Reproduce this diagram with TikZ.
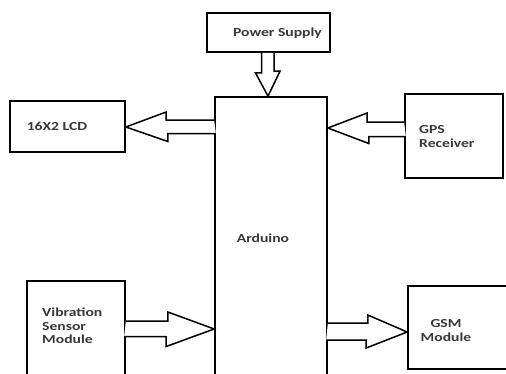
\documentclass[tikz,border=0pt]{standalone}
\usepackage{fontspec}
\setmainfont{Carlito}
\usetikzlibrary{calc}
\tikzset{
  blk/.style={draw=black, line width=1.7pt, fill=white, inner sep=0pt},
  lbl/.style={font=\bfseries\fontsize{12.3}{14.5}\selectfont, text=black!78, inner sep=0pt, align=left},
  barrow/.style={draw=black, line width=1.5pt, line join=miter, fill=white}
}
\newcommand{\wide}[1]{\scalebox{1.27}[1]{#1}}
\begin{document}
\begin{tikzpicture}[x=1pt,y=-1pt]
\useasboundingbox (0,0) rectangle (506,373);
\clip (0,0) rectangle (506,373);
% boxes
\node[blk, minimum width=123pt, minimum height=39pt] (ps) at (268.5,32.5) {};
\node[blk, minimum width=112pt, minimum height=303pt] (ard) at (271,248.5) {};
\node[blk, minimum width=115pt, minimum height=51pt] (lcd) at (67.5,126.5) {};
\node[blk, minimum width=98pt, minimum height=84pt] (gps) at (454,136) {};
\node[blk, minimum width=98pt, minimum height=114pt] (vib) at (76,338) {};
\node[blk, minimum width=100pt, minimum height=83pt] (gsm) at (458,327.5) {};
% labels
\node[lbl] (pst) at (277.5,33) {\wide{Power Supply}};
\node[lbl] (lcdt) at (57,126) {\wide{16X2 LCD}};
\node[lbl] (ardt) at (263,238) {\wide{Arduino}};
\node[lbl, anchor=west] (gpst) at (419,136.5) {\wide{GPS}\\[-1pt]\wide{Receiver}};
\node[lbl, anchor=west] (vibt) at (42,326) {\wide{Vibration}\\[-1pt]\wide{Sensor}\\[-1pt]\wide{Module}};
\node[lbl, align=center] (gsmt) at (446,330.5) {\wide{GSM}\\[-1pt]\wide{Module}};
% power arrow (down)
\draw[barrow] ($(ps.south)+(-7,0)$) -- ++(0,20) -- ++(-6,0) -- ($(ard.north)+(-3,0)$) -- ++(12,-25) -- ++(-6,0) -- ($(ps.south)+(5.5,0)$);
% LCD arrow (left)
\draw[barrow] ($(ard.west)+(0,-128.5)$) coordinate (a1) -- ++(-48,0) -- ++(0,-8) -- ($(lcd.east)+(0,0.5)$) -- ++(42,14.5) -- ++(0,-8) -- ++(48,0);
% GPS arrow (left)
\draw[barrow] ($(gps.west)+(0,-14)$) -- ++(-37,0) -- ++(0,-9) -- ($(ard.east)+(0,-120.5)$) -- ++(41,15.5) -- ++(0,-7) -- ++(37,0);
% Vibration arrow (right)
\draw[barrow] ($(vib.east)+(0,-17)$) -- ++(42,0) -- ++(0,-9) -- ($(ard.west)+(0,80.5)$) -- ++(-48,17.5) -- ++(0,-10) -- ++(-42,0);
% GSM arrow (right)
\draw[barrow] ($(ard.east)+(0,74.5)$) -- ++(40,0) -- ++(0,-8) -- ($(gsm.west)+(0,4.5)$) -- ++(-41,16) -- ++(0,-8) -- ++(-40,0);
\end{tikzpicture}
\end{document}
